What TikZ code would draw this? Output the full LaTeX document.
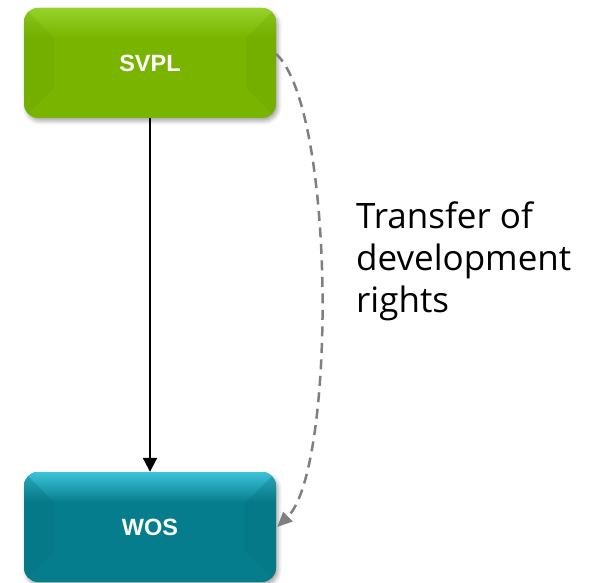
\documentclass[tikz,border=0pt]{standalone}
\usepackage{fontspec}
\setmainfont{Liberation Sans}
\newfontfamily\labelfont{Open Sans}
\usetikzlibrary{arrows.meta,shadows.blur}
\definecolor{svplmain}{HTML}{78B400}
\definecolor{svpltop}{HTML}{96D22A}
\definecolor{svplside}{HTML}{6CA600}
\definecolor{wosmain}{HTML}{067D8D}
\definecolor{wostop}{HTML}{3CC4DA}
\definecolor{wosside}{HTML}{05707F}
\definecolor{linkgray}{HTML}{7F7F7F}
\tikzset{
  x=1pt, y=-1pt,
  boxtext/.style={text=white, font=\bfseries\fontsize{23.5}{28}\selectfont},
  boxshadow/.style={blur shadow={shadow xshift=2pt, shadow yshift=-3pt, shadow blur radius=4pt, shadow opacity=35}},
  mainlink/.style={draw=black, line width=2pt, -{Triangle[length=14pt,width=14pt]}},
  rightslink/.style={draw=linkgray, line width=2.5pt, dash pattern=on 10pt off 6.5pt,
    -{Triangle[length=15pt,width=13pt]}},
}
% rounded block with a top gloss and bevelled sides
\newcommand{\gelbox}[6]{% name, x1, y1, x2, y2, colour prefix
  \path[boxshadow, rounded corners=14pt, fill=#6main] (#2,#3) rectangle (#4,#5);
  \begin{scope}
    \clip[rounded corners=14pt] (#2,#3) rectangle (#4,#5);
    \shade[top color=#6top, bottom color=#6main] (#2,#3) rectangle (#4,#3+30);
    \fill[#6side, opacity=0.3] (#2,#3) -- (#2+30,#3+30) -- (#2+30,#5-30) -- (#2,#5) -- cycle;
    \fill[#6side, opacity=0.3] (#4,#3) -- (#4-30,#3+30) -- (#4-30,#5-30) -- (#4,#5) -- cycle;
  \end{scope}
  \node[inner sep=0pt, minimum width=#4-#2, minimum height=#5-#3] (#1) at ({(#2+#4)/2},{(#3+#5)/2}) {};
}
\begin{document}
\begin{tikzpicture}
\useasboundingbox (0,0) rectangle (589,583);
\gelbox{svpl}{24}{8}{276}{118}{svpl}
\gelbox{wos}{24}{472}{276}{582}{wos}
\node[boxtext] at (svpl.center) {SVPL};
\node[boxtext] at (wos.center) {WOS};
% ownership link
\draw[mainlink] (svpl.south) -- (wos.north);
% transfer of development rights
\coordinate (tdrstart) at ([yshift=9pt]svpl.east);
\coordinate (tdrend) at ([xshift=1pt]wos.east);
\draw[rightslink] (tdrstart) .. controls (336,110) and (336,470) .. (tdrend);
\node[anchor=base west, inner sep=0pt, align=left,
      font=\labelfont\fontsize{35}{42}\selectfont] (tdr) at (356,312)
  {Transfer of\\development\\rights};
\end{tikzpicture}
\end{document}
